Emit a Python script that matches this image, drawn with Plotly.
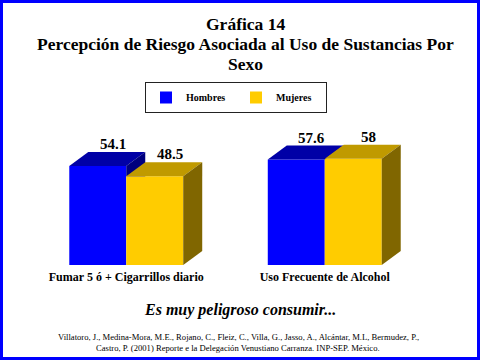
import plotly.graph_objects as go

# ---------------- data ----------------
categories = ["Fumar 5 ó + Cigarrillos diario", "Uso Frecuente de Alcohol"]
series_names = ["Hombres", "Mujeres"]
hombres = [54.1, 57.6]
mujeres = [48.5, 58]
hombres_labels = ["54.1", "57.6"]
mujeres_labels = ["48.5", "58"]
title_lines = ["Gráfica 14",
               "Percepción de Riesgo Asociada al Uso de Sustancias Por",
               "Sexo"]
subtitle = "Es muy peligroso consumir..."
citation_lines = [
    "Villatoro, J., Medina-Mora, M.E., Rojano, C., Fleiz, C., Villa, G., Jasso, A., "
    "Alcántar, M.L, Bermudez, P.,",
    "Castro, P. (2001) Reporte e la Delegación Venustiano Carranza. INP-SEP. México.",
]

# ---------------- style ----------------
FONT = "Liberation Serif"
front_colors = ["#0000FF", "#FFCC00"]
top_colors = ["#0000A6", "#C09A00"]
side_colors = ["#00007E", "#806600"]

W, H = 480, 360
ML, MR, MT, MB = 27, 56, 82, 95
PW, PH = W - ML - MR, H - MT - MB
XR = (-0.5, 1.5)
YR = (0, 100)
BAR_W = 0.287
DX = 19 / PW * (XR[1] - XR[0])     # 3-D depth offset (x, data units)
DY = 14 / PH * (YR[1] - YR[0])     # 3-D depth offset (y, data units)


def px_x(px):
    return (px - ML) / PW


def px_y(py):
    return (H - MB - py) / PH


series_values = [hombres, mujeres]
series_labels = [hombres_labels, mujeres_labels]
xs = list(range(len(categories)))

fig = go.Figure()

# front faces as bars
for j, name in enumerate(series_names):
    fig.add_trace(go.Bar(
        x=xs, y=series_values[j], name=name,
        width=BAR_W, offset=-BAR_W + j * BAR_W,
        marker=dict(color=front_colors[j], line=dict(width=0)),
        hoverinfo="skip",
    ))

# top and side faces
for i in xs:
    for j in range(len(series_names)):
        h = series_values[j][i]
        left = i - BAR_W + j * BAR_W
        right = left + BAR_W
        fig.add_trace(go.Scatter(
            x=[left, right, right + DX, left + DX, left],
            y=[h, h, h + DY, h + DY, h],
            mode="lines", fill="toself", fillcolor=top_colors[j],
            line=dict(width=0, color=top_colors[j]),
            showlegend=False, hoverinfo="skip"))
        sx = sy = None
        if j + 1 < len(series_names):
            hn = series_values[j + 1][i]
            if h > hn:
                sx = [right, right, right + DX, right + DX, right]
                sy = [hn, h, h + DY, hn, hn]
        else:
            sx = [right, right, right + DX, right + DX, right]
            sy = [0, h, h + DY, DY, 0]
        if sx is not None:
            fig.add_trace(go.Scatter(
                x=sx, y=sy, mode="lines", fill="toself",
                fillcolor=side_colors[j],
                line=dict(width=0, color=side_colors[j]),
                showlegend=False, hoverinfo="skip"))

annotations = []
for j in range(len(series_names)):
    for i in xs:
        h = series_values[j][i]
        cx = i - BAR_W / 2 + j * BAR_W
        annotations.append(dict(
            x=cx, y=h, xref="x", yref="y", text=series_labels[j][i],
            showarrow=False, xanchor="center", yanchor="middle",
            xshift=15, yshift=22,
            font=dict(family=FONT, size=15, color="black", weight="bold")))

for line, yc in zip(title_lines, [24, 44, 64]):
    annotations.append(dict(
        x=px_x(245), y=px_y(yc), xref="paper", yref="paper", text=line,
        showarrow=False, xanchor="center", yanchor="middle",
        font=dict(family=FONT, size=17.5, color="black", weight="bold")))

annotations.append(dict(
    x=px_x(240), y=px_y(310), xref="paper", yref="paper",
    text="<i>" + subtitle + "</i>",
    showarrow=False, xanchor="center", yanchor="middle",
    font=dict(family=FONT, size=16, color="black", weight="bold")))

for line, yc in zip(citation_lines, [337, 348]):
    annotations.append(dict(
        x=px_x(238), y=px_y(yc), xref="paper", yref="paper", text=line,
        showarrow=False, xanchor="center", yanchor="middle",
        font=dict(family=FONT, size=8.6, color="black")))

shapes = [dict(
    type="rect", xref="paper", yref="paper",
    x0=px_x(1.5), x1=px_x(478.5), y0=px_y(358.5), y1=px_y(1.5),
    line=dict(color="#0000FF", width=3), fillcolor="rgba(0,0,0,0)")]

fig.update_layout(
    width=W, height=H,
    margin=dict(l=ML, r=MR, t=MT, b=MB, pad=0),
    paper_bgcolor="white", plot_bgcolor="white",
    barmode="overlay",
    showlegend=True,
    legend=dict(
        orientation="h", x=px_x(236), xanchor="center",
        y=px_y(82), yanchor="top",
        bordercolor="#222222", borderwidth=1, bgcolor="white",
        font=dict(family=FONT, size=10, color="black", weight="bold"),
        itemwidth=30, traceorder="normal", entrywidth=45),
    xaxis=dict(range=list(XR), tickvals=xs, ticktext=categories,
               showgrid=False, zeroline=False, showline=False, ticks="",
               ticklabelstandoff=3,
               tickfont=dict(family=FONT, size=12, color="black", weight="bold"),
               fixedrange=True),
    yaxis=dict(range=list(YR), visible=False, fixedrange=True),
    annotations=annotations,
    shapes=shapes,
)

fig.write_html("out.html", config={"displayModeBar": False},
               post_script="document.body.style.margin='0';"
                           "document.body.style.overflow='hidden';")
